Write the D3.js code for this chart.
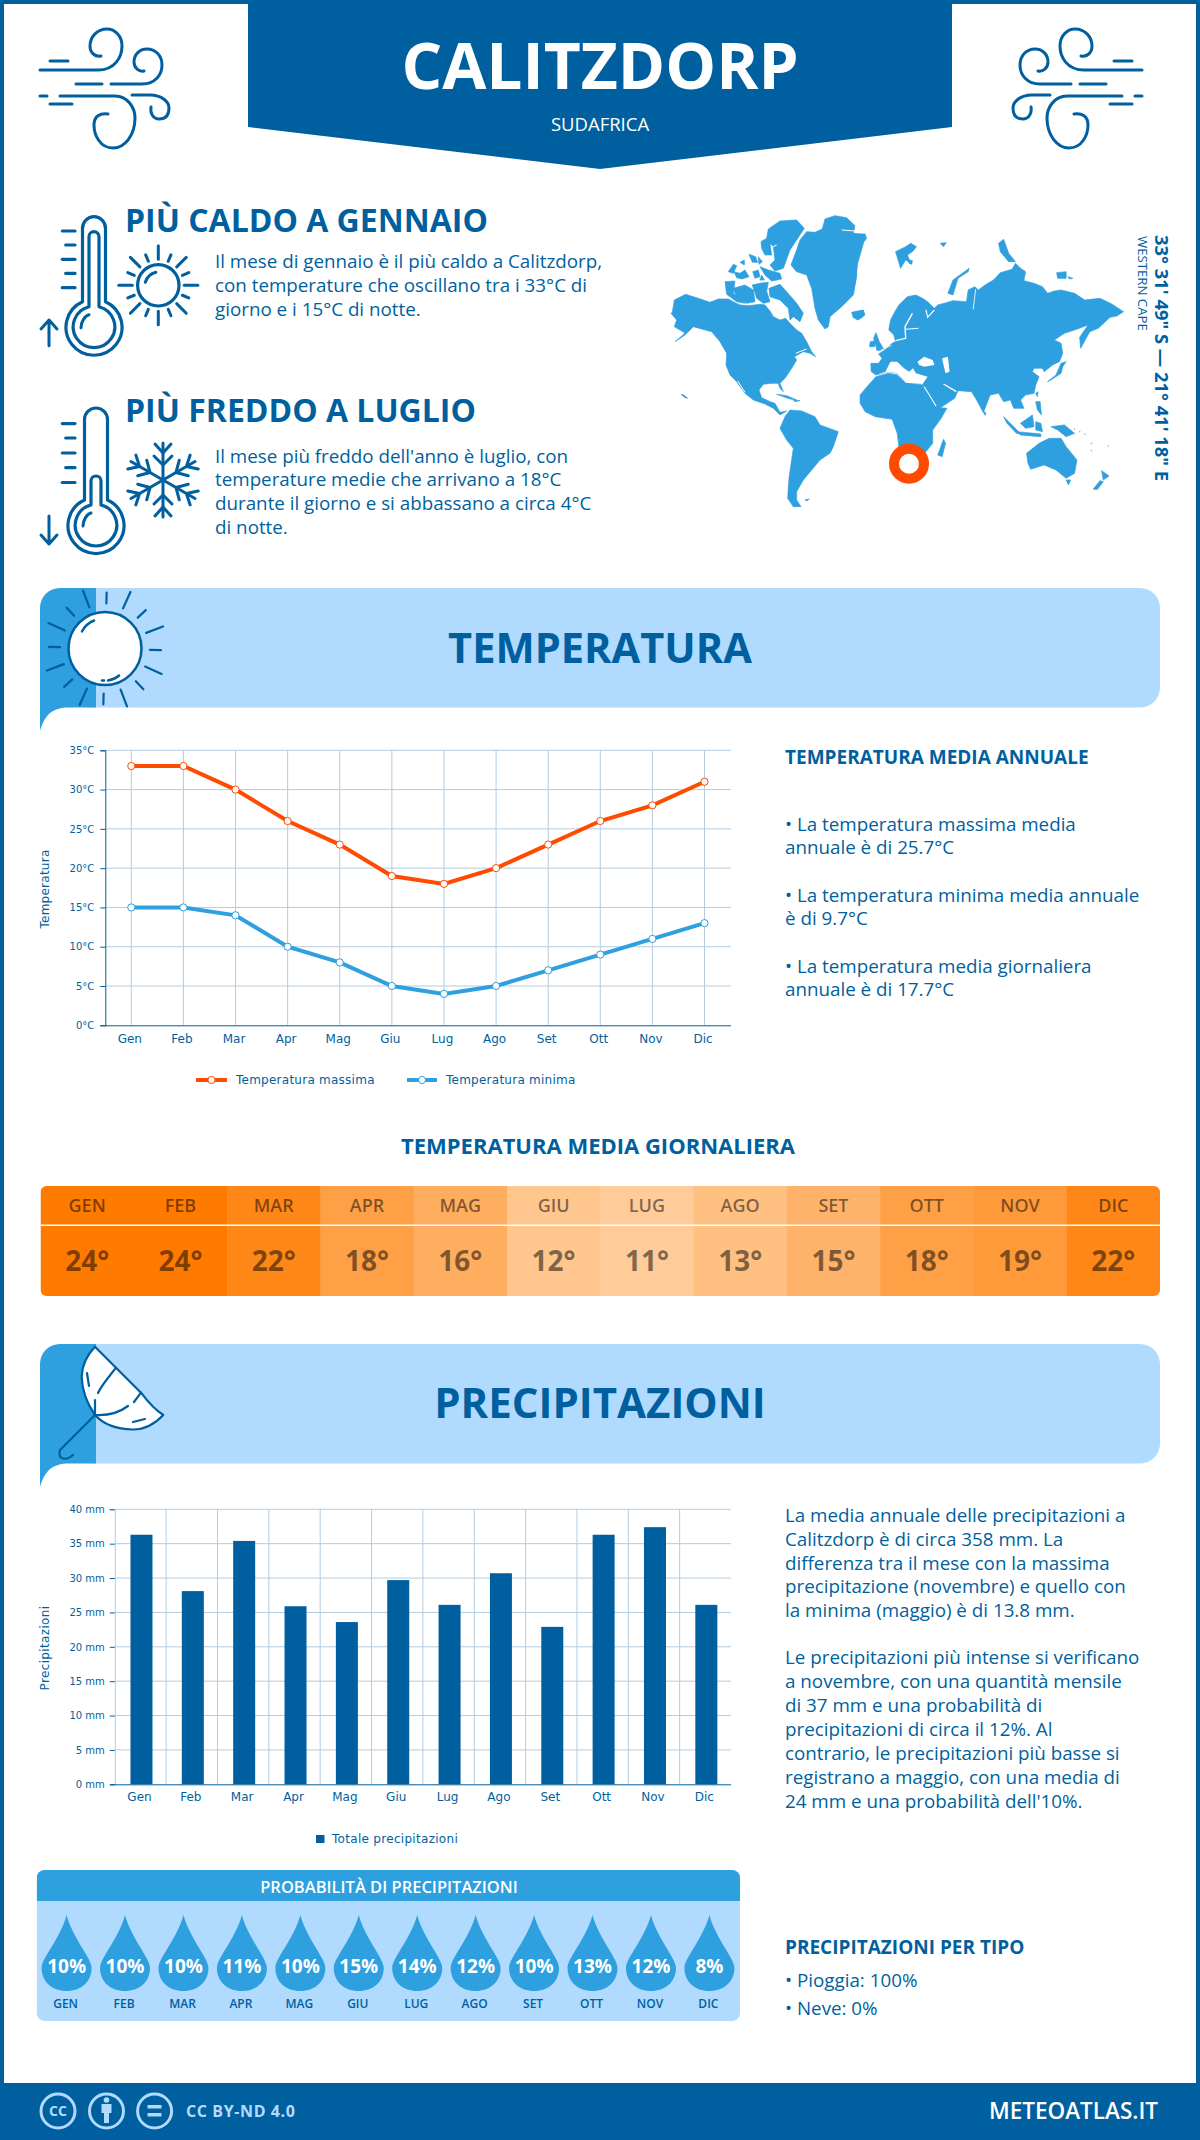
<!DOCTYPE html>
<html>
<head>
<meta charset="utf-8">
<script src="https://cdnjs.cloudflare.com/ajax/libs/d3/7.8.5/d3.min.js"></script>
<style>
html, body { margin: 0; padding: 0; background: #fff; }
svg { display: block; }
text { font-family: "Open Sans", sans-serif; }
.chart text { font-family: "DejaVu Sans", sans-serif; }
</style>
</head>
<body>
<svg id="page" width="1200" height="2140"></svg>
<script>
// chart data
var months = ["Gen","Feb","Mar","Apr","Mag","Giu","Lug","Ago","Set","Ott","Nov","Dic"];
var monthsUpper = ["GEN","FEB","MAR","APR","MAG","GIU","LUG","AGO","SET","OTT","NOV","DIC"];
var tempMax = [33,33,30,26,23,19,18,20,23,26,28,31];
var tempMin = [15,15,14,10,8,5,4,5,7,9,11,13];
var tempAvg = [24,24,22,18,16,12,11,13,15,18,19,22];
var precip = [36.3,28.1,35.4,25.9,23.6,29.7,26.1,30.7,22.9,36.3,37.4,26.1];
var rainProb = [10,10,10,11,10,15,14,12,10,13,12,8];
var tempTicks = [0,5,10,15,20,25,30,35];
var precipTicks = [0,5,10,15,20,25,30,35,40];

var textHot = ["Il mese di gennaio è il più caldo a Calitzdorp,","con temperature che oscillano tra i 33°C di","giorno e i 15°C di notte."];
var textCold = ["Il mese più freddo dell'anno è luglio, con","temperature medie che arrivano a 18°C","durante il giorno e si abbassano a circa 4°C","di notte."];
var textTemp = [
  ["• La temperatura massima media","annuale è di 25.7°C"],
  ["• La temperatura minima media annuale","è di 9.7°C"],
  ["• La temperatura media giornaliera","annuale è di 17.7°C"]
];
var textRain1 = ["La media annuale delle precipitazioni a","Calitzdorp è di circa 358 mm. La","differenza tra il mese con la massima","precipitazione (novembre) e quello con","la minima (maggio) è di 13.8 mm."];
var textRain2 = ["Le precipitazioni più intense si verificano","a novembre, con una quantità mensile","di 37 mm e una probabilità di","precipitazioni di circa il 12%. Al","contrario, le precipitazioni più basse si","registrano a maggio, con una media di","24 mm e una probabilità dell'10%."];

var navy = "#005f9e", sky = "#2e9fdf", pale = "#b0dbff", red = "#ff4b00", grid = "#b3cce0";

var svg = d3.select("#page");

function label(parent, x, y, str, size, weight, fill, anchor) {
  return parent.append("text").attr("x", x).attr("y", y).text(str)
    .attr("font-size", size).attr("font-weight", weight || 400)
    .attr("fill", fill || navy).attr("text-anchor", anchor || "start");
}
function lines(x, ys, arr, size) {
  arr.forEach(function(s, i) { label(svg, x, ys[i], s, size || 18.8); });
}
function stroke(parent, d, w, fill) {
  return parent.append("path").attr("d", d).attr("fill", fill || "none")
    .attr("stroke", navy).attr("stroke-width", w || 3)
    .attr("stroke-linecap", "round").attr("stroke-linejoin", "round");
}

// frame + header
svg.append("rect").attr("x", 2).attr("y", 2).attr("width", 1196).attr("height", 2100)
  .attr("fill", "none").attr("stroke", navy).attr("stroke-width", 4);
svg.append("path").attr("d", "M248,0H952V127L600,169L248,127Z").attr("fill", navy);
label(svg, 600, 89, "CALITZDORP", 64, 700, "#fff", "middle");
label(svg, 600, 131, "SUDAFRICA", 18.5, 400, "#fff", "middle");

// wind icons
function wind(g) {
  stroke(g, "M40,70H98C115,70 122,57 122,46C122,36 115,29 107,29C97,29 90,37 90,46C90,53 95,57 101,56");
  stroke(g, "M111,84H142C155,84 162,75 162,65C162,55 155,49 147,49C139,49 134,55 134,62C134,68 139,72 144,71");
  stroke(g, "M50,61H68");
  stroke(g, "M76,84H102");
  stroke(g, "M40,96H47");
  stroke(g, "M60,96H115C128,96 135,108 135,118C135,135 125,148 113,148C100,148 94,135 94,125C94,116 100,113 108,114");
  stroke(g, "M132,95H150C162,95 169,102 169,108C169,116 165,119 159,119C153,119 150,113 151,107");
  stroke(g, "M50,104H72");
}
wind(svg.append("g"));
wind(svg.append("g").attr("transform", "translate(1182,0) scale(-1,1)"));

// thermometers
function thermo(tubeTop, innerTop, cx, cy, ticks, up) {
  var g = svg.append("g");
  var hw = 11.5;
  var d = "M" + (cx - hw) + "," + (cy - 25) + "V" + (tubeTop + hw)
    + "A" + hw + "," + hw + " 0 0 1 " + (cx + hw) + "," + (tubeTop + hw)
    + "V" + (cy - 25) + "A28,28 0 1 1 " + (cx - hw) + "," + (cy - 25) + "Z";
  stroke(g, d, 3.2);
  var iw = 5;
  var d2 = "M" + (cx - iw) + "," + (cy - 20) + "V" + (innerTop + iw)
    + "A" + iw + "," + iw + " 0 0 1 " + (cx + iw) + "," + (innerTop + iw)
    + "V" + (cy - 20) + "A20.8,20.8 0 1 1 " + (cx - iw) + "," + (cy - 20) + "Z";
  stroke(g, d2, 3.2);
  stroke(g, "M" + (cx - 13) + "," + (cy + 1) + "C" + (cx - 13) + "," + (cy - 5) + " " + (cx - 9) + "," + (cy - 11) + " " + (cx - 5) + "," + (cy - 12), 3);
  ticks.forEach(function(y, i) {
    stroke(g, "M" + (i % 2 ? 65.7 : 62.3) + "," + y + "H75", 3.2);
  });
  if (up) stroke(g, "M49,345.7V320M41,329L49,320L57,329", 3);
  else stroke(g, "M49,516V544M41,535L49,544L57,535", 3);
}
thermo(216.7, 231.7, 94, 326.7, [231,245,259.3,273.3,287.7], true);
thermo(408, 476, 96, 525, [423.6,438,453,467.6,482.5], false);

// small sun
(function() {
  var g = svg.append("g").attr("transform", "translate(158.3,285.3)");
  stroke(g, "M20.7,0A20.7,20.7 0 1 1 -20.7,0A20.7,20.7 0 1 1 20.7,0", 3.2);
  stroke(g, "M-13,-3C-11,-9 -7,-12 -2.5,-13", 3);
  d3.range(16).forEach(function(i) {
    var a = i * Math.PI / 8, r0 = 26, r1 = i % 2 ? 33 : 39.5;
    stroke(g, "M" + r0 * Math.sin(a) + "," + (-r0 * Math.cos(a)) + "L" + r1 * Math.sin(a) + "," + (-r1 * Math.cos(a)), 3);
  });
})();

// snowflake
(function() {
  var g = svg.append("g").attr("transform", "translate(163,480)");
  d3.range(6).forEach(function(i) {
    var a = g.append("g").attr("transform", "rotate(" + i * 60 + ")");
    stroke(a, "M0,0V-37", 3);
    stroke(a, "M-8,-36L0,-27L8,-36", 3);
    stroke(a, "M-9,-24L0,-15L9,-24", 3);
  });
})();

label(svg, 125, 231.5, "PIÙ CALDO A GENNAIO", 32, 700);
lines(215, [268,292,316], textHot);
label(svg, 125, 422, "PIÙ FREDDO A LUGLIO", 32, 700);
lines(215, [462.5,486,510,534], textCold);

// world map: outlines traced by eye, west and east halves each in their own box
var landWest = [
  "M22,322L28,285L62,268L100,280L135,292L160,282L190,282L205,290L225,300L250,302L285,298L300,300L315,318L325,335L345,345L362,340L375,355L395,375L410,385L425,410L440,440L452,455L435,445L415,440L388,455L395,465L380,490L360,520L345,535L355,560L345,550L340,535L320,535L295,538L282,555L290,578L315,590L330,595L345,622L365,618L345,630L325,610L300,597L265,585L240,565L215,530L195,510L183,480L185,445L165,410L140,380L110,372L85,365L60,390L30,410L60,385L50,378L28,365L35,345L18,325Z",
  "M312,250L345,238L365,260L395,295L415,325L405,350L385,335L375,345L370,310L345,285L315,275Z",
  "M180,230L210,228L205,265L240,295L215,290L185,268Z",
  "M205,250L240,240L265,255L270,290L245,295L215,280Z",
  "M262,240L285,235L310,232L305,258L315,290L295,295L275,280Z",
  "M288,110L305,100L310,72L345,48L395,45L418,70L395,105L375,135L355,190L330,198L315,180L330,165L325,125L315,115L320,150L300,150L290,130Z",
  "M190,200L205,178L215,182L205,205Z",
  "M207,200L225,205L240,195L252,215L230,222L215,218Z",
  "M225,172L238,165L238,180Z",
  "M252,148L272,155L278,172L262,172Z",
  "M280,155L292,170L282,178Z",
  "M285,185L310,195L345,205L350,222L320,228L300,210Z",
  "M263,200L280,195L285,215L270,220Z",
  "M290,210L298,225L285,225Z",
  "M378,180L395,135L405,105L425,80L450,82L472,72L480,42L510,32L545,38L570,62L565,85L600,88L605,100L585,125L575,170L575,215L565,270L530,305L495,335L490,365L480,372L460,345L450,310L440,250L425,210L395,200Z",
  "M560,322L595,315L600,330L580,345L565,338Z",
  "M335,568L365,572L395,585L375,582Z",
  "M385,585L405,587L390,590Z",
  "M345,670L360,635L375,615L410,618L450,635L465,660L520,680L505,725L495,745L465,765L440,795L415,825L395,860L395,885L408,905L385,905L368,880L372,820L385,730L365,705Z",
  "M420,884L433,882L425,888Z",
  "M48,568L56,570L68,580L60,578Z"
];
var coastWest = ["M218,528L240,562", "M530,75L570,78", "M325,125L335,120", "M392,445L425,432"];

var landEast = [
  "M47,400L70,400L80,385L70,372L85,362L110,340L120,335L115,315L100,300L105,270L118,245L130,225L155,200L180,195L200,205L215,215L235,235L245,225L270,218L290,212L330,215L335,180L355,170L365,180L385,165L410,150L430,128L465,118L475,100L490,115L505,125L500,152L530,160L555,170L570,190L590,183L610,180L650,190L680,210L725,205L760,222L795,245L775,258L755,262L720,295L695,305L668,355L665,322L690,285L650,300L620,310L590,330L610,340L615,370L605,395L585,405L560,425L555,415L530,415L525,425L545,440L535,465L530,490L505,495L490,510L500,535L470,535L460,510L440,515L425,490L400,495L380,548L360,510L345,485L305,482L295,505L250,535L240,530L205,470L200,462L150,458L125,430L100,425L62,435L48,425Z",
  "M15,495L40,465L62,440L100,430L125,435L150,458L200,465L240,532L272,535L255,565L230,600L230,640L210,665L165,690L130,650L125,610L110,568L60,560L30,545L15,520Z",
  "M245,675L262,628L268,640L258,680Z",
  "M380,545L388,548L385,556Z",
  "M62,308L72,335L85,358L65,362L60,340L55,325Z",
  "M45,335L60,332L58,350L43,350Z",
  "M120,65L150,50L165,40L182,50L170,65L155,75L165,100L150,90L135,115Z",
  "M160,90L170,92L168,103L160,100Z",
  "M252,40L270,38L262,50Z",
  "M275,190L290,150L338,115L335,125L305,145L290,195Z",
  "M425,40L440,28L455,70L475,95L455,95L430,65Z",
  "M597,128L625,125L625,145L600,145Z",
  "M630,140L645,145L635,147Z",
  "M570,455L595,435L610,400L625,395L615,410L610,430L580,450Z",
  "M535,490L542,485L540,500Z",
  "M535,515L548,515L552,555L540,540Z",
  "M440,560L470,590L490,612L478,610L450,580Z",
  "M480,605L550,612L550,620L490,615Z",
  "M490,580L525,555L530,590L505,595Z",
  "M535,575L550,580L555,605L535,600Z",
  "M580,590L620,585L650,610L625,620L600,600Z",
  "M508,670L545,640L575,625L610,625L625,650L657,690L650,730L625,745L595,720L560,705L520,718L512,700Z",
  "M625,750L638,750L632,765Z",
  "M730,722L752,738L735,750Z",
  "M705,778L725,752L735,755L718,778Z",
  "M0,15L30,12L25,40L8,100L0,160Z",
  "M0,245L25,242L22,262L5,268Z"
];
var seasEast = [
  "M62,435L100,425L125,430L150,458L200,462L215,440L180,430L172,415L160,425L145,415L125,395L105,395L90,425Z",
  "M185,395L205,380L230,390L235,405L205,410L190,405Z",
  "M258,385L275,380L280,425L268,430L262,405Z"
];
var coastEast = [
  [4, "M120,332L150,325L148,290L170,250"],
  [3, "M150,298L188,295"],
  [3.5, "M210,240L215,262L235,240"],
  [2.5, "M357,178L350,238"],
  [4, "M262,462L300,485"],
  [3, "M205,470L240,528"],
  [2.5, "M78,360L108,346"]
];
var specks = [[650,597],[665,605],[680,612],[700,640],[750,648],[700,662]];

function drawLand(g, arr) {
  g.selectAll("path.land").data(arr).enter().append("path").attr("class", "land")
    .attr("d", function(d) { return d; }).attr("fill", sky)
    .attr("stroke", sky).attr("stroke-width", 2).attr("stroke-linejoin", "round");
}
var mapW = svg.append("g").attr("transform", "translate(665,205) scale(0.3333)");
drawLand(mapW, landWest);
coastWest.forEach(function(d) {
  mapW.append("path").attr("d", d).attr("fill", "none").attr("stroke", "#fff").attr("stroke-width", 3);
});
var mapE = svg.append("g").attr("transform", "translate(855,230) scale(0.3378,0.3333)");
drawLand(mapE, landEast);
mapE.selectAll("path.sea").data(seasEast).enter().append("path").attr("class", "sea")
  .attr("d", function(d) { return d; }).attr("fill", "#fff");
coastEast.forEach(function(c) {
  mapE.append("path").attr("d", c[1]).attr("fill", "none").attr("stroke", "#fff").attr("stroke-width", c[0]);
});
mapE.selectAll("circle").data(specks).enter().append("circle")
  .attr("cx", function(d) { return d[0]; }).attr("cy", function(d) { return d[1]; }).attr("r", 2.5).attr("fill", sky).attr("opacity", 0.6);
svg.append("circle").attr("cx", 909).attr("cy", 463.7).attr("r", 15).attr("fill", "#fff").attr("stroke", red).attr("stroke-width", 10);

var coord = svg.append("g").attr("transform", "translate(1155,235) rotate(90)");
label(coord, 0, 0, "33° 31' 49\" S — 21° 41' 18\" E", 18.4, 700);
var region = svg.append("g").attr("transform", "translate(1138,236) rotate(90)");
label(region, 0, 0, "WESTERN CAPE", 13.2);

// section bands
function band(y0, title, baseline, size) {
  var y1 = y0 + 119.5;
  svg.append("path").attr("d", "M90," + y0 + "H1140A20,20 0 0 1 1160," + (y0 + 20) + "V" + (y1 - 20)
    + "A20,20 0 0 1 1140," + y1 + "H90Z").attr("fill", pale);
  svg.append("path").attr("d", "M96," + y0 + "H60A20,20 0 0 0 40," + (y0 + 20) + "V" + (y1 + 23.5)
    + "C44," + (y1 + 10) + " 50," + (y1 + 1) + " 66," + y1 + "H96Z").attr("fill", sky);
  label(svg, 600, baseline, title, size, 700, navy, "middle");
}
band(588, "TEMPERATURA", 663, 41.6);
band(1344, "PRECIPITAZIONI", 1418, 42);

// big sun
(function() {
  var g = svg.append("g").attr("transform", "translate(105,648.5)");
  g.append("circle").attr("r", 36.5).attr("fill", "#fff").attr("stroke", navy).attr("stroke-width", 2.5);
  stroke(g, "M-23,-17C-20,-23 -16,-26 -11,-28", 2.5);
  stroke(g, "M14,27C11,30 8,31 3,32M-3,32H-1", 2.5);
  d3.range(16).forEach(function(i) {
    var a = i * Math.PI / 8 + 0.03, r0 = i % 2 ? 44 : 45, r1 = i % 2 ? 62 : 56;
    stroke(g, "M" + r0 * Math.sin(a) + "," + (-r0 * Math.cos(a)) + "L" + r1 * Math.sin(a) + "," + (-r1 * Math.cos(a)), 2.2);
  });
})();

// umbrella
(function() {
  var g = svg.append("g");
  stroke(g, "M95,1346.7L116,1367.7L141,1392.7C148,1402 155,1410 163.3,1415C153,1426 143,1429.5 133,1429.5C115,1429 103,1424 95,1415C86,1402 82,1390 81.7,1376.7C82,1365 87,1355 95,1346.7Z", 2.2, "#fff");
  stroke(g, "M116,1367.7C108,1378 101,1386 98,1393M95,1400L95,1415C110,1416 120,1412 128,1406M134,1402L141,1392.7", 2.2);
  stroke(g, "M87,1373L89,1386M133,1422L145,1419", 2.2);
  stroke(g, "M95,1415L60,1450C57,1460 66,1461 73,1455", 2.2);
})();

// temperature chart
var tc = svg.append("g").attr("class", "chart");
var xT = d3.scalePoint().domain(months).range([131.3, 704.5]);
var yT = d3.scaleLinear().domain([0, 35]).range([1025.3, 750.3]);

function styleAxis(sel, col) {
  sel.select(".domain").attr("stroke", col);
  sel.selectAll(".tick text").attr("fill", navy).attr("font-size", 10).attr("font-family", "DejaVu Sans");
}

var gridT = tc.append("g");
gridT.selectAll("line.v").data(months).enter().append("line")
  .attr("x1", function(d) { return xT(d); }).attr("x2", function(d) { return xT(d); })
  .attr("y1", yT(35)).attr("y2", yT(0)).attr("stroke", grid);
gridT.selectAll("line.h").data(tempTicks.slice(1)).enter().append("line")
  .attr("x1", 105).attr("x2", 731).attr("y1", function(d) { return yT(d); }).attr("y2", function(d) { return yT(d); })
  .attr("stroke", grid);

var axisLeftT = tc.append("g").attr("transform", "translate(105.3,0)")
  .call(d3.axisLeft(yT).tickValues(tempTicks).tickSize(5).tickPadding(6).tickFormat(function(d) { return d + "°C"; }));
styleAxis(axisLeftT, navy);
axisLeftT.selectAll(".tick line").attr("stroke", navy);

var axisBottomT = tc.append("g").attr("transform", "translate(0,1025.3)")
  .call(d3.axisBottom(xT).tickSize(0).tickPadding(9));
styleAxis(axisBottomT, navy);
axisBottomT.select(".domain").attr("d", "M105,0.5H731");
axisBottomT.selectAll(".tick text").attr("dx", -2).attr("font-size", 12);

var lineT = d3.line().x(function(d, i) { return xT(months[i]); }).y(function(d) { return yT(d); });
function drawSeries(vals, col) {
  tc.append("path").attr("d", lineT(vals)).attr("fill", "none").attr("stroke", col).attr("stroke-width", 4);
  tc.selectAll(null).data(vals).enter().append("circle")
    .attr("cx", function(d, i) { return xT(months[i]); }).attr("cy", function(d) { return yT(d); })
    .attr("r", 3.6).attr("fill", "#fff").attr("stroke", col).attr("stroke-width", 1);
}
drawSeries(tempMax, red);
drawSeries(tempMin, sky);

tc.append("text").attr("transform", "translate(49,889) rotate(-90)").attr("text-anchor", "middle")
  .attr("font-size", 12).attr("fill", navy).attr("letter-spacing", 0.25).text("Temperatura");

function legendLine(x0, x1, tx, col, str) {
  tc.append("line").attr("x1", x0).attr("x2", x1).attr("y1", 1080).attr("y2", 1080).attr("stroke", col).attr("stroke-width", 4);
  tc.append("circle").attr("cx", (x0 + x1) / 2).attr("cy", 1080).attr("r", 3.6).attr("fill", "#fff").attr("stroke", col);
  tc.append("text").attr("x", tx).attr("y", 1084).attr("font-size", 12).attr("letter-spacing", 0.25).attr("fill", navy).text(str);
}
legendLine(196, 227, 236, red, "Temperatura massima");
legendLine(407, 437, 446, sky, "Temperatura minima");

label(svg, 785, 764, "TEMPERATURA MEDIA ANNUALE", 19, 700);
lines(785, [830.5,853.5], textTemp[0]);
lines(785, [902,925], textTemp[1]);
lines(785, [973,996], textTemp[2]);

// daily mean strip
label(svg, 598, 1154, "TEMPERATURA MEDIA GIORNALIERA", 22, 700, navy, "middle");
var xH = d3.scaleBand().domain(months).range([40.5, 1160]);
var colorH = d3.scaleLinear().domain([11, 24]).range(["#ffcc99", "#ff7b00"]);
svg.append("clipPath").attr("id", "stripClip").append("rect")
  .attr("x", 40.5).attr("y", 1186).attr("width", 1119.5).attr("height", 110).attr("rx", 6);
var strip = svg.append("g").attr("clip-path", "url(#stripClip)");
strip.selectAll("rect").data(tempAvg).enter().append("rect")
  .attr("x", function(d, i) { return xH(months[i]); }).attr("width", xH.bandwidth() + 0.5)
  .attr("y", 1186).attr("height", 110).attr("fill", function(d) { return colorH(d); });
strip.append("rect").attr("x", 40.5).attr("y", 1224.5).attr("width", 1120).attr("height", 1.5).attr("fill", "#fff");
tempAvg.forEach(function(d, i) {
  var cx = xH(months[i]) + xH.bandwidth() / 2;
  label(svg, cx, 1211.7, monthsUpper[i], 18, 600, "rgba(0,0,0,0.5)", "middle");
  label(svg, cx, 1270.7, d + "°", 28, 700, "rgba(0,0,0,0.5)", "middle");
});

// precipitation chart
var pc = svg.append("g").attr("class", "chart");
var xP = d3.scaleBand().domain(months).range([114.8, 731]);
var yP = d3.scaleLinear().domain([0, 40]).range([1784.3, 1509.3]);

months.slice(1).forEach(function(m) {
  pc.append("line").attr("x1", xP(m)).attr("x2", xP(m)).attr("y1", yP(40)).attr("y2", yP(0)).attr("stroke", grid);
});
pc.selectAll("line.h").data(precipTicks.slice(1)).enter().append("line")
  .attr("x1", 114.8).attr("x2", 731).attr("y1", function(d) { return yP(d); }).attr("y2", function(d) { return yP(d); })
  .attr("stroke", grid);
pc.selectAll("rect.bar").data(precip).enter().append("rect").attr("class", "bar")
  .attr("x", function(d, i) { return xP(months[i]) + xP.bandwidth() / 2 - 10; })
  .attr("width", 22)
  .attr("y", function(d) { return yP(d); })
  .attr("height", function(d) { return yP(0) - yP(d); })
  .attr("fill", navy);

var axisLeftP = pc.append("g").attr("transform", "translate(114.8,0)")
  .call(d3.axisLeft(yP).tickValues(precipTicks).tickSize(5).tickPadding(5).tickFormat(function(d) { return d + " mm"; }));
styleAxis(axisLeftP, grid);
axisLeftP.selectAll(".tick line").attr("stroke", navy);

var axisBottomP = pc.append("g").attr("transform", "translate(0,1784.3)")
  .call(d3.axisBottom(xP).tickSize(0).tickPadding(8));
styleAxis(axisBottomP, navy);
axisBottomP.select(".domain").attr("d", "M110,0.5H731");
axisBottomP.selectAll(".tick text").attr("dx", -1).attr("font-size", 12);

pc.append("text").attr("transform", "translate(49,1648) rotate(-90)").attr("text-anchor", "middle")
  .attr("font-size", 12).attr("fill", navy).attr("letter-spacing", 0.35).text("Precipitazioni");
pc.append("rect").attr("x", 316).attr("y", 1835).attr("width", 8.5).attr("height", 8).attr("fill", navy);
pc.append("text").attr("x", 332).attr("y", 1843).attr("font-size", 12).attr("letter-spacing", 0.3).attr("fill", navy).text("Totale precipitazioni");

lines(785, [1522,1546,1569.5,1593,1617], textRain1);
lines(785, [1664,1688,1712,1736,1759.5,1783.5,1807.5], textRain2);

// rain probability panel
svg.append("clipPath").attr("id", "probClip").append("rect")
  .attr("x", 36.7).attr("y", 1870).attr("width", 703.3).attr("height", 151).attr("rx", 8);
var prob = svg.append("g").attr("clip-path", "url(#probClip)");
prob.append("rect").attr("x", 36.7).attr("y", 1870).attr("width", 704).attr("height", 151).attr("fill", pale);
prob.append("rect").attr("x", 36.7).attr("y", 1870).attr("width", 704).attr("height", 31).attr("fill", sky);
label(svg, 389, 1892.7, "PROBABILITÀ DI PRECIPITAZIONI", 16.5, 600, "#fff", "middle");

var xD = d3.scalePoint().domain(monthsUpper).range([66.6, 709.4]);
var dropPath = "M0,-53C6,-30 25,-10 25,0C25,14 14,23 0,23C-14,23 -25,14 -25,0C-25,-10 -6,-30 0,-53Z";
rainProb.forEach(function(v, i) {
  var g = svg.append("g").attr("transform", "translate(" + xD(monthsUpper[i]) + ",1968)");
  g.append("path").attr("d", dropPath).attr("fill", sky);
  label(g, 0, 4.7, v + "%", 19, 700, "#fff", "middle");
  label(g, -1, 40.3, monthsUpper[i], 12, 600, navy, "middle");
});

label(svg, 785, 1953.7, "PRECIPITAZIONI PER TIPO", 19, 700);
lines(785, [1986.7,2015], ["• Pioggia: 100%","• Neve: 0%"]);

// footer
svg.append("rect").attr("x", 0).attr("y", 2083).attr("width", 1200).attr("height", 57).attr("fill", navy);
[58,106.5,154.6].forEach(function(cx) {
  svg.append("circle").attr("cx", cx).attr("cy", 2111).attr("r", 17).attr("fill", "none").attr("stroke", pale).attr("stroke-width", 3);
});
label(svg, 58, 2116, "CC", 14, 700, pale, "middle");
svg.append("circle").attr("cx", 106.5).attr("cy", 2100).attr("r", 2.8).attr("fill", pale);
svg.append("rect").attr("x", 101.5).attr("y", 2104).attr("width", 10).attr("height", 9).attr("fill", pale);
svg.append("rect").attr("x", 104).attr("y", 2113).attr("width", 5).attr("height", 10).attr("fill", pale);
svg.append("rect").attr("x", 147.5).attr("y", 2105).attr("width", 14).attr("height", 3.5).attr("fill", pale);
svg.append("rect").attr("x", 147.5).attr("y", 2113).attr("width", 14).attr("height", 3.5).attr("fill", pale);
label(svg, 186, 2117, "CC BY-ND 4.0", 16, 700, pale).attr("letter-spacing", 0.6);
label(svg, 1158, 2119, "METEOATLAS.IT", 22.5, 600, "#fff", "end");
</script>
</body>
</html>
